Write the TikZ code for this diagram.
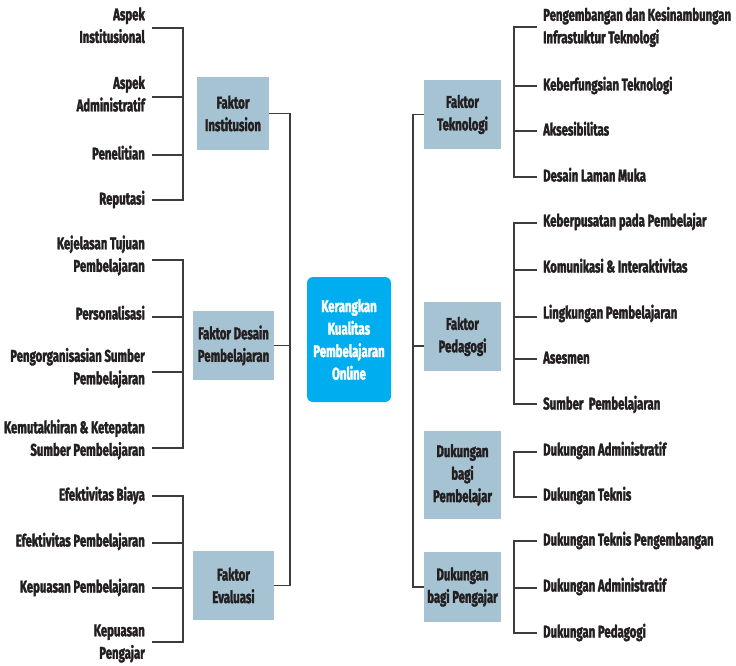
\documentclass[tikz,border=0pt]{standalone}
\usepackage{fontspec}
\setmainfont{Fira Sans}[FakeStretch=0.67, BoldFeatures={FakeBold=2}]
\definecolor{boxblue}{RGB}{165,195,211}
\definecolor{cyanbox}{RGB}{0,174,239}
\definecolor{ink}{RGB}{35,31,32}
\definecolor{linec}{RGB}{60,60,60}
\begin{document}
\begin{tikzpicture}[x=1pt,y=-1pt,
  every node/.style={font=\fontsize{17}{22.5}\selectfont\bfseries, text=ink},
  fbox/.style={fill=boxblue, align=center, inner sep=0pt},
  item/.style={align=left, anchor=west, inner sep=0pt, execute at begin node=\strut, execute at end node=\strut},
  litem/.style={align=right, anchor=east, inner sep=0pt, execute at begin node=\strut, execute at end node=\strut},
  conn/.style={draw=linec, line width=1.6pt}]
\useasboundingbox (0,0) rectangle (736,666);

% central
\node[fill=cyanbox, rounded corners=6pt, minimum width=84pt, minimum height=125pt, align=center, text=white, inner sep=0pt] (cen) at (349,339.5) {Kerangkan\\Kualitas\\Pembelajaran\\Online};

% left boxes
\node[fbox, minimum width=72pt, minimum height=73pt] (fi) at (233,113.5) {Faktor\\Institusion};
\node[fbox, minimum width=81pt, minimum height=69pt] (fd) at (233.5,345.5) {Faktor Desain\\Pembelajaran};
\node[fbox, minimum width=81pt, minimum height=69pt] (fe) at (233.5,585.5) {Faktor\\Evaluasi};

% right boxes
\node[fbox, minimum width=77pt, minimum height=69pt] (ft) at (462.5,114.5) {Faktor\\Teknologi};
\node[fbox, minimum width=77pt, minimum height=69pt] (fp) at (462.5,336.5) {Faktor\\Pedagogi};
\node[fbox, minimum width=77pt, minimum height=88pt] (fs) at (462.5,475) {Dukungan\\bagi\\Pembelajar};
\node[fbox, minimum width=77pt, minimum height=70pt] (fg) at (462.5,587) {Dukungan\\bagi Pengajar};

% spines
\coordinate (ls) at (290,0);
\coordinate (rs) at (413,0);
\draw[conn] (fi.east) -| (fe.east -| ls) -- (fe.east);
\draw[conn] (fd.east) -- (fd.east -| ls);
\coordinate (pc) at ([yshift=-9.5pt]fp.west);
\draw[conn] (ft.west) -| (fg.west -| rs) -- (fg.west);
\draw[conn] (pc) -- (pc -| rs);

% left brackets
\coordinate (lbr) at (183,0);
% Institusion
\node[litem] (a1) at (145,28.5) {Aspek\\Institusional};
\node[litem] (a2) at (145,97) {Aspek\\Administratif};
\node[litem] (a3) at (145,155) {Penelitian};
\node[litem] (a4) at (145,200) {Reputasi};
\coordinate (a1c) at (152,28);
\coordinate (a2c) at (152,97);
\coordinate (a3c) at (152,155);
\coordinate (a4c) at (152,200);
\draw[conn] (a1c) -| (a4c -| lbr) -- (a4c);
\draw[conn] (a2c) -- (a2c -| lbr);
\draw[conn] (a3c) -- (a3c -| lbr);
% Desain
\node[litem] (d1) at (145,257) {Kejelasan Tujuan\\Pembelajaran};
\node[litem] (d2) at (145,315) {Personalisasi};
\node[litem] (d3) at (145,369.5) {Pengorganisasian Sumber\\Pembelajaran};
\node[litem] (d4) at (145,441) {Kemutakhiran \& Ketepatan\\Sumber Pembelajaran};
\coordinate (d1c) at (152,260);
\coordinate (d2c) at (152,317);
\coordinate (d3c) at (152,372);
\coordinate (d4c) at (152,448);
\draw[conn] (d1c) -| (d4c -| lbr) -- (d4c);
\draw[conn] (d2c) -- (d2c -| lbr);
\draw[conn] (d3c) -- (d3c -| lbr);
% Evaluasi
\node[litem] (e1) at (145,496) {Efektivitas Biaya};
\node[litem] (e2) at (145,542) {Efektivitas Pembelajaran};
\node[litem] (e3) at (145,588) {Kepuasan Pembelajaran};
\node[litem] (e4) at (145,645) {Kepuasan\\Pengajar};
\coordinate (e1c) at (152,496);
\coordinate (e2c) at (152,543);
\coordinate (e3c) at (152,588);
\coordinate (e4c) at (152,642);
\draw[conn] (e1c) -| (e4c -| lbr) -- (e4c);
\draw[conn] (e2c) -- (e2c -| lbr);
\draw[conn] (e3c) -- (e3c -| lbr);

% right brackets
\coordinate (rbr) at (514,0);
% Teknologi
\node[item] (t1) at (543,28.5) {Pengembangan dan Kesinambungan\\Infrastuktur Teknologi};
\node[item] (t2) at (543,86) {Keberfungsian Teknologi};
\node[item] (t3) at (543,131) {Aksesibilitas};
\node[item] (t4) at (543,177) {Desain Laman Muka};
\coordinate (t1c) at (537,27);
\coordinate (t2c) at (537,86);
\coordinate (t3c) at (537,131);
\coordinate (t4c) at (537,177);
\draw[conn] (t1c) -| (t4c -| rbr) -- (t4c);
\draw[conn] (t2c) -- (t2c -| rbr);
\draw[conn] (t3c) -- (t3c -| rbr);
% Pedagogi
\node[item] (p1) at (543,222) {Keberpusatan pada Pembelajar};
\node[item] (p2) at (543,268) {Komunikasi \& Interaktivitas};
\node[item] (p3) at (543,314) {Lingkungan Pembelajaran};
\node[item] (p4) at (543,359) {Asesmen};
\node[item] (p5) at (543,405) {Sumber\ \ Pembelajaran};
\coordinate (p1c) at (537,223);
\coordinate (p2c) at (537,270);
\coordinate (p3c) at (537,317);
\coordinate (p4c) at (537,359);
\coordinate (p5c) at (537,404);
\draw[conn] (p1c) -| (p5c -| rbr) -- (p5c);
\draw[conn] (p2c) -- (p2c -| rbr);
\draw[conn] (p3c) -- (p3c -| rbr);
\draw[conn] (p4c) -- (p4c -| rbr);
% Dukungan bagi Pembelajar
\node[item] (s1) at (543,451) {Dukungan Administratif};
\node[item] (s2) at (543,496) {Dukungan Teknis};
\coordinate (s1c) at (537,452);
\coordinate (s2c) at (537,497);
\draw[conn] (s1c) -| (s2c -| rbr) -- (s2c);
% Dukungan bagi Pengajar
\node[item] (g1) at (543,541) {Dukungan Teknis Pengembangan};
\node[item] (g2) at (543,587) {Dukungan Administratif};
\node[item] (g3) at (543,633) {Dukungan Pedagogi};
\coordinate (g1c) at (537,541);
\coordinate (g2c) at (537,588);
\coordinate (g3c) at (537,633);
\draw[conn] (g1c) -| (g3c -| rbr) -- (g3c);
\draw[conn] (g2c) -- (g2c -| rbr);
\end{tikzpicture}
\end{document}
